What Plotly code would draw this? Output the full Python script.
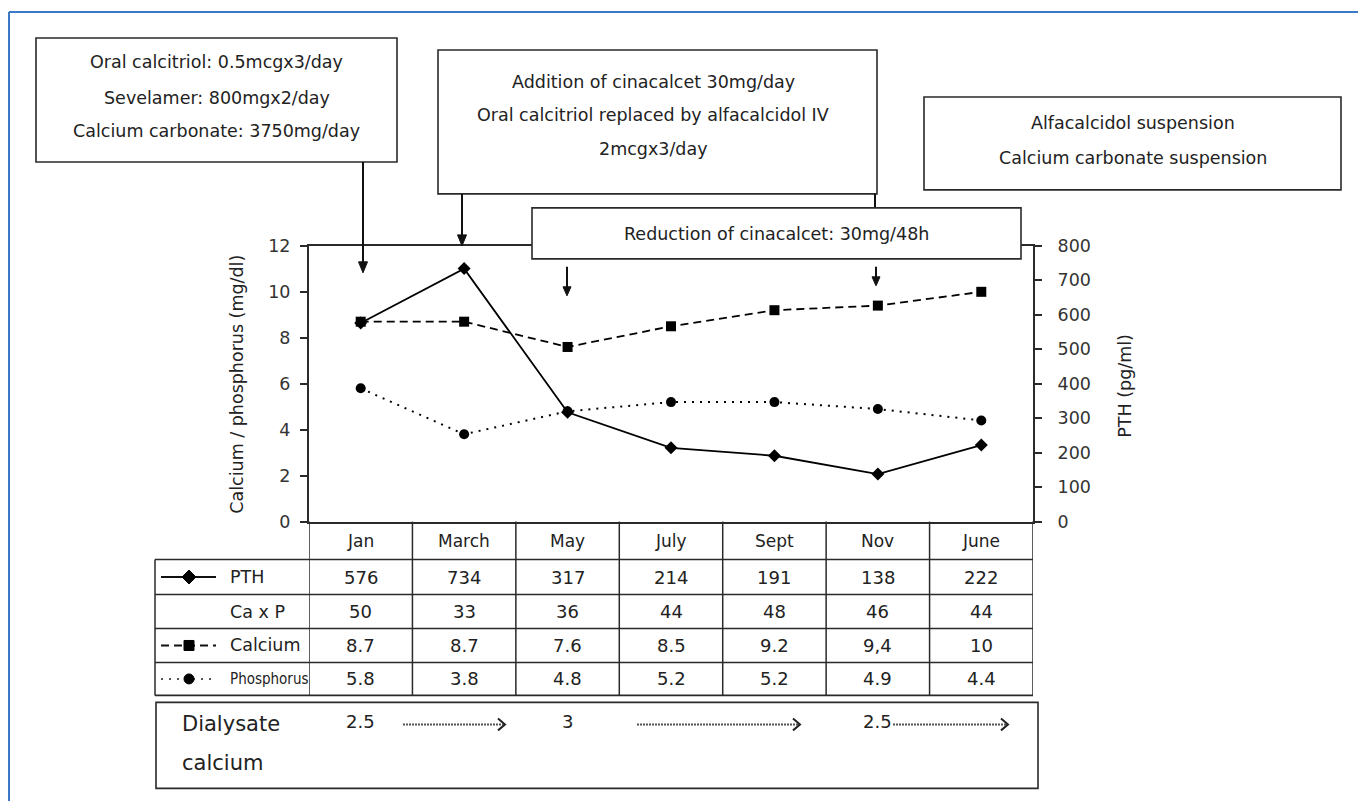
import plotly.graph_objects as go

W, H = 1358, 801

# ---------------- data ----------------
months = ["Jan", "March", "May", "July", "Sept", "Nov", "June"]
pth = [576, 734, 317, 214, 191, 138, 222]
ca_x_p = [50, 33, 36, 44, 48, 46, 44]
calcium = [8.7, 8.7, 7.6, 8.5, 9.2, 9.4, 10]
calcium_text = ["8.7", "8.7", "7.6", "8.5", "9.2", "9,4", "10"]
phosphorus = [5.8, 3.8, 4.8, 5.2, 5.2, 4.9, 4.4]
left_ticks = [0, 2, 4, 6, 8, 10, 12]
right_ticks = [0, 100, 200, 300, 400, 500, 600, 700, 800]
dialysate_months = ["Jan", "May", "Nov"]
dialysate_values = ["2.5", "3", "2.5"]

box1_lines = ["Oral calcitriol: 0.5mcgx3/day", "Sevelamer: 800mgx2/day",
              "Calcium carbonate: 3750mg/day"]
box2_lines = ["Addition of cinacalcet 30mg/day",
              "Oral calcitriol replaced by alfacalcidol IV", "2mcgx3/day"]
box3_lines = ["Reduction of cinacalcet: 30mg/48h"]
box4_lines = ["Alfacalcidol suspension", "Calcium carbonate suspension"]

FONT = "DejaVu Sans, Liberation Sans, Arial, sans-serif"
NARROW = "Liberation Sans Narrow, DejaVu Sans Condensed, Liberation Sans, sans-serif"
INK = "#222222"
LINE = "#2a2a2a"

# vertical correction for the way the page is photographed
V_OFF, V_SCALE = 8.9, 0.976


def X(px):
    return px / W


def Y(py):
    return 1 - ((py - V_OFF) / V_SCALE) / H


fig = go.Figure()

fig.add_trace(go.Scatter(
    x=months, y=calcium, yaxis="y", mode="lines+markers", name="Calcium",
    line=dict(color="black", width=1.8, dash="8px,5px"),
    marker=dict(symbol="square", size=10, color="black")))
fig.add_trace(go.Scatter(
    x=months, y=phosphorus, yaxis="y", mode="lines+markers", name="Phosphorus",
    line=dict(color="black", width=2, dash="2px,6px"),
    marker=dict(symbol="circle", size=10, color="black")))
fig.add_trace(go.Scatter(
    x=months, y=pth, yaxis="y2", mode="lines+markers", name="PTH",
    line=dict(color="black", width=1.8),
    marker=dict(symbol="diamond", size=10, color="black")))

shapes = []
annotations = []


def line(x0, y0, x1, y1, color=LINE, width=1.6, dash=None, xref="paper"):
    d = dict(type="line", xref=xref, yref="paper",
             x0=x0, y0=Y(y0), x1=x1, y1=Y(y1),
             line=dict(color=color, width=width))
    if dash:
        d["line"]["dash"] = dash
    shapes.append(d)


def pline(x0, y0, x1, y1, **kw):
    line(X(x0), y0, X(x1), y1, **kw)


def box(x0, y0, x1, y1):
    shapes.append(dict(type="rect", xref="paper", yref="paper",
                       x0=X(x0), y0=Y(y1), x1=X(x1), y1=Y(y0),
                       fillcolor="white", line=dict(color=LINE, width=1.6),
                       layer="above"))


def text(x, y, s, size=18, xanchor="center", xref="paper", angle=0, family=FONT):
    annotations.append(dict(x=x, y=Y(y), xref=xref, yref="paper", text=s,
                            showarrow=False, xanchor=xanchor, yanchor="middle",
                            textangle=angle,
                            font=dict(family=family, size=size, color=INK)))


def arrow_down(x, y0, y1, head=11, half=4.5):
    pline(x, y0, x, y1 - head + 1, width=2, color="#111")
    shapes.append(dict(type="path", xref="paper", yref="paper",
                       path=f"M {X(x - half)},{Y(y1 - head)} L {X(x + half)},{Y(y1 - head)} "
                            f"L {X(x)},{Y(y1)} Z",
                       fillcolor="#111", line=dict(color="#111", width=1)))


# outer blue frame
pline(9, 11, W, 11, color="#3b78c6", width=2)
pline(9, 11, 9, 805, color="#3b78c6", width=2)

# ---------------- annotation boxes ----------------
box(36, 37, 397, 161)
for s, yy in zip(box1_lines, [61, 97, 130]):
    text(X(217), yy, s, size=17.5)
box(438, 49, 877, 193)
for s, yy in zip(box2_lines, [81, 114, 148]):
    text(X(653), yy, s, size=17.5)
box(924, 96, 1341, 189)
for s, yy in zip(box4_lines, [122, 157]):
    text(X(1133), yy, s, size=17.5)

arrow_down(363, 161, 272)
arrow_down(462, 193, 245)
pline(875, 193, 875, 207, width=2, color="#111")
box(532, 207, 1021, 258)
text(X(776), 233, box3_lines[0], size=17.5)
arrow_down(567, 266, 295, head=9, half=4)
arrow_down(876, 266, 285, head=9, half=4)

# ---------------- axis titles ----------------
text(X(237), 384, "Calcium / phosphorus (mg/dl)", size=17.5, angle=-90)
text(X(1125), 385, "PTH (pg/ml)", size=17.5, angle=-90)

# ---------------- table ----------------
row_bounds = [521, 559, 594, 628, 662, 695]
row_mid = [(a + b) / 2 for a, b in zip(row_bounds[:-1], row_bounds[1:])]
for yy in row_bounds[1:]:
    pline(155, yy, 1033, yy, width=1.8 if yy == row_bounds[-1] else 1.5)
pline(155, 559, 155, 695, width=1.5)
for i in range(len(months) + 1):
    line(i - 0.5, 521, i - 0.5, 695, xref="x", width=1.5)

for m in months:
    text(m, row_mid[0], m, size=17, xref="x")
table_rows = [[str(v) for v in pth], [str(v) for v in ca_x_p], calcium_text,
              [f"{v:.1f}" for v in phosphorus]]
for r, vals in enumerate(table_rows):
    for m, s in zip(months, vals):
        text(m, row_mid[r + 1], s, size=18, xref="x")

row_labels = ["PTH", "Ca x P", "Calcium", "Phosphorus"]
for r, s in enumerate(row_labels):
    if s == "Phosphorus":
        text(X(228), row_mid[r + 1], s, size=15, xanchor="left", family=NARROW)
    else:
        text(X(228), row_mid[r + 1], s, size=17.5, xanchor="left")

# legend glyphs in label column
gy = row_mid[1]
pline(161, gy, 216, gy, width=2, color="#111")
shapes.append(dict(type="path", xref="paper", yref="paper",
                   path=f"M {X(182)},{Y(gy)} L {X(189)},{Y(gy - 7)} L {X(196)},{Y(gy)} "
                        f"L {X(189)},{Y(gy + 7)} Z",
                   fillcolor="black", line=dict(color="black", width=1)))
gy = row_mid[3]
pline(161, gy, 216, gy, width=2, color="#111", dash="8px,5px")
shapes.append(dict(type="rect", xref="paper", yref="paper",
                   x0=X(184), x1=X(194), y0=Y(gy + 5), y1=Y(gy - 5),
                   fillcolor="black", line=dict(color="black", width=1)))
gy = row_mid[4]
pline(161, gy, 216, gy, width=2, color="#555", dash="2px,6px")
shapes.append(dict(type="circle", xref="paper", yref="paper",
                   x0=X(184), x1=X(194), y0=Y(gy + 5), y1=Y(gy - 5),
                   fillcolor="black", line=dict(color="black", width=1)))

# ---------------- dialysate calcium box ----------------
box(156, 702, 1038, 788)
text(X(180), 724, "Dialysate", size=21, xanchor="left")
text(X(180), 763, "calcium", size=21, xanchor="left")
for m, s in zip(dialysate_months, dialysate_values):
    text(m, 721, s, size=18, xref="x")
for x0, x1 in [(403, 505), (637, 800), (893, 1008)]:
    pline(x0, 724, x1 - 2, 724, width=2, color="#555", dash="2px,1px")
    shapes.append(dict(type="path", xref="paper", yref="paper",
                       path=f"M {X(x1 - 7)},{Y(718)} L {X(x1)},{Y(724)} L {X(x1 - 7)},{Y(730)}",
                       line=dict(color="#222", width=2)))

fig.update_layout(
    width=W, height=H, autosize=False,
    margin=dict(l=0, r=0, t=0, b=0, pad=0),
    paper_bgcolor="white", plot_bgcolor="white",
    showlegend=False,
    font=dict(family=FONT, size=18, color=INK),
    xaxis=dict(domain=[X(309), X(1033)], type="category", range=[-0.5, 6.5],
               showticklabels=False, ticks="", showgrid=False, zeroline=False,
               showline=True, mirror=True, linecolor=LINE, linewidth=2),
    yaxis=dict(domain=[Y(521), Y(245)], range=[0, 12], tickvals=left_ticks,
               ticks="outside", ticklen=7, tickwidth=2, tickcolor=LINE,
               showline=True, linecolor=LINE, linewidth=2, showgrid=False,
               zeroline=False, ticklabelstandoff=6,
               tickfont=dict(family=FONT, size=17.5, color="#333")),
    yaxis2=dict(range=[0, 800], tickvals=right_ticks, overlaying="y",
                side="right", anchor="x",
                ticks="outside", ticklen=7, tickwidth=2, tickcolor=LINE,
                showline=True, linecolor=LINE, linewidth=2, showgrid=False,
                zeroline=False, ticklabelstandoff=12,
                tickfont=dict(family=FONT, size=17.5, color="#333")),
    shapes=shapes,
    annotations=annotations,
)

pin_script = (
    "var gd = document.getElementById('{plot_id}');"
    "gd.style.position = 'fixed'; gd.style.left = '0px'; gd.style.top = '0px';"
    "document.body.style.margin = '0px';"
    "document.body.style.overflow = 'hidden';"
    "document.documentElement.style.overflow = 'hidden';"
)
fig.write_html("out.html", config={"displayModeBar": False}, post_script=pin_script)
